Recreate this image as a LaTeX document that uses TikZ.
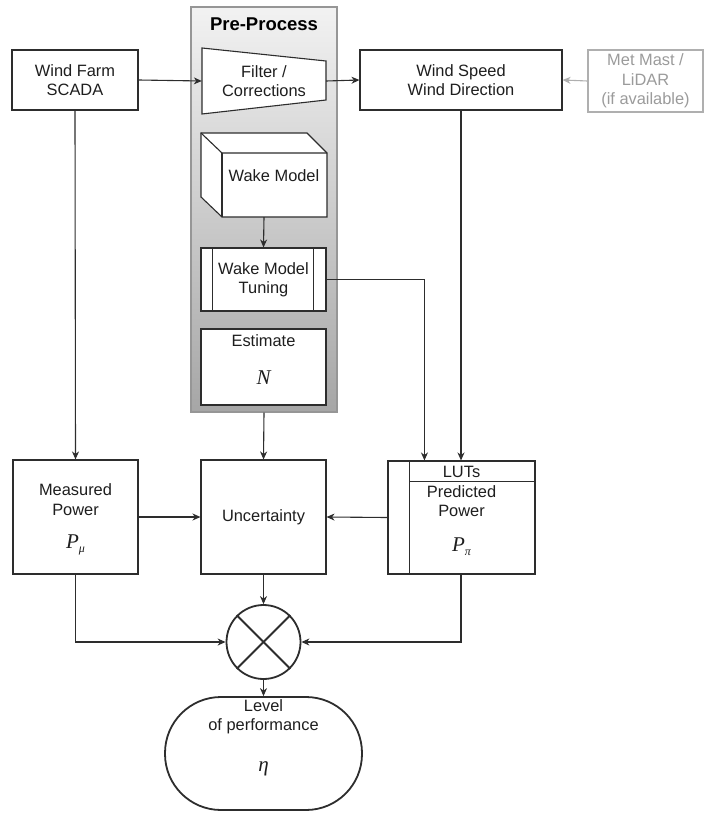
\documentclass[tikz,border=0pt]{standalone}
\usepackage{fontspec}
\setmainfont{Liberation Sans}
\newfontfamily\mserif{Liberation Serif}
\usetikzlibrary{arrows.meta,calc,shapes.geometric}
\definecolor{ln}{RGB}{45,45,45}
\definecolor{txtc}{RGB}{30,30,30}
\definecolor{gtop}{RGB}{242,242,242}
\definecolor{gbot}{RGB}{166,166,166}
\definecolor{gbord}{RGB}{150,150,150}
\definecolor{faint}{RGB}{155,155,155}
\definecolor{faintb}{RGB}{175,175,175}
\newcommand{\varsub}[2]{{\mserif\itshape #1}\raisebox{-4pt}{\fontsize{12}{12}\selectfont\mserif\itshape #2}}
\begin{document}
\begin{tikzpicture}[x=1pt,y=-1pt,
  txt/.style={font=\fontsize{16.4}{19.5}\selectfont, text=txtc, align=center, inner sep=0pt},
  mth/.style={font=\fontsize{21}{24}\selectfont\mserif\itshape, text=txtc, inner sep=0pt},
  box/.style={draw=ln, line width=1.1pt, fill=white, inner sep=0pt},
  shp/.style={draw=ln, line width=1.1pt, fill=white},
  thin/.style={draw=ln, line width=1.1pt},
  arr/.style={draw=ln, line width=1.1pt, -{Stealth[length=8pt,width=7pt,inset=2.5pt]}},
  garr/.style={draw=faintb, line width=1.1pt, -{Stealth[length=8pt,width=7pt,inset=2.5pt]}}
]
\useasboundingbox (0,0) rectangle (704,813);

% Pre-process container
\node[draw=gbord, line width=1.1pt, top color=gtop, bottom color=gbot, minimum width=146pt, minimum height=405pt, inner sep=0pt] (pre) at (264,209.5) {};
\node[txt, font=\fontsize{18.5}{22}\selectfont\bfseries, text=black] (pretitle) at (264,24) {Pre-Process};

% Wind farm SCADA
\node[box, txt, minimum width=126pt, minimum height=60pt] (scada) at (75,80) {Wind Farm\\SCADA};

% Filter / corrections (trapezoid)
\draw[shp] (202,48) -- (326,61) -- (326,100) -- (202,114) -- cycle;
\node[txt, minimum width=124pt, minimum height=66pt] (filter) at (264,81) {Filter /\\Corrections};

% Wind speed
\node[box, txt, minimum width=202pt, minimum height=60pt] (ws) at (461,80) {Wind Speed\\Wind Direction};

% Met mast
\node[draw=faintb, line width=1.1pt, fill=white, inner sep=0pt, txt, text=faint, minimum width=115pt, minimum height=62pt] (met) at (645.5,81) {Met Mast /\\LiDAR\\(if available)};

% Wake model cube
\draw[shp] (201,133) -- (307,133) -- (327,153) -- (327,217) -- (222,217) -- (201,197) -- cycle;
\draw[thin] (201,133) -- (222,153) -- (327,153);
\draw[thin] (222,153) -- (222,217);
\node[minimum width=126pt, minimum height=84pt, inner sep=0pt] (wake) at (264,175) {};
\node[txt] (wakelabel) at (274,176) {Wake Model};

% Wake model tuning
\node[box, minimum width=125pt, minimum height=63pt] (tuning) at (263.5,279.5) {};
\draw[thin] ($(tuning.north west)+(12,0)$) -- ($(tuning.south west)+(12,0)$);
\draw[thin] ($(tuning.north east)+(-13,0)$) -- ($(tuning.south east)+(-13,0)$);
\node[txt] (tuninglabel) at (263.5,280) {Wake Model\\Tuning};

% Estimate N
\node[box, minimum width=125pt, minimum height=76pt] (est) at (263.5,367) {};
\node[txt] (estlabel) at (263.5,341) {Estimate};
\node[mth] (estN) at (263.5,378) {N};

% Measured power
\node[box, minimum width=125pt, minimum height=114pt] (meas) at (75.5,517) {};
\node[txt] (measlabel) at (75.5,499.5) {Measured\\Power};
\node[mth] (measP) at (75.5,545) {\varsub{P}{μ}};

% Uncertainty
\node[box, txt, minimum width=125pt, minimum height=114pt] (unc) at (263.5,517) {Uncertainty};

% Predicted power with LUTs
\node[box, minimum width=147pt, minimum height=113pt] (pred) at (461.5,517.5) {};
\draw[thin] ($(pred.north west)+(22,0)$) -- ($(pred.south west)+(22,0)$);
\draw[thin] ($(pred.north west)+(22,21)$) -- ($(pred.north east)+(0,21)$);
\node[txt] (luts) at (461.5,472) {LUTs};
\node[txt] (predlabel) at (461.5,501) {Predicted\\Power};
\node[mth] (predP) at (461.5,547) {\varsub{P}{π}};

% Multiplier
\node[circle, draw=ln, line width=1.8pt, fill=white, minimum size=74pt, inner sep=0pt] (mult) at (263.5,642) {};
\draw[draw=ln, line width=1.8pt] (mult.north west) -- (mult.south east);
\draw[draw=ln, line width=1.8pt] (mult.north east) -- (mult.south west);

% Level of performance
\node[draw=ln, line width=1.8pt, fill=white, rounded corners=56pt, minimum width=197pt, minimum height=113pt, inner sep=0pt] (level) at (263.5,753.5) {};
\node[txt] (levellabel) at (263.5,717) {Level\\of performance};
\node[mth] (eta) at (263.5,769) {η};

% Connectors
\draw[arr] (scada.east) -- (filter.west);
\draw[arr] (filter.east) -- (ws.west);
\draw[garr] (met.west) -- (ws.east);
\draw[arr] (scada.south) -- (meas.north);
\draw[arr] (wake.south) -- (tuning.north);
\coordinate (lutin) at ($(pred.north west)+(37,0)$);
\draw[arr] (tuning.east) -| (lutin);
\draw[arr] (ws.south) -- (ws.south |- pred.north);
\draw[arr] (pre.south) -- (unc.north);
\draw[arr] (meas.east) -- (unc.west);
\draw[arr] (pred.west) -- (unc.east);
\draw[arr] (unc.south) -- (mult.north);
\draw[arr] (meas.south) |- (mult.west);
\draw[arr] (ws.south |- pred.south) |- (mult.east);
\draw[arr] (mult.south) -- (level.north);
\end{tikzpicture}
\end{document}
